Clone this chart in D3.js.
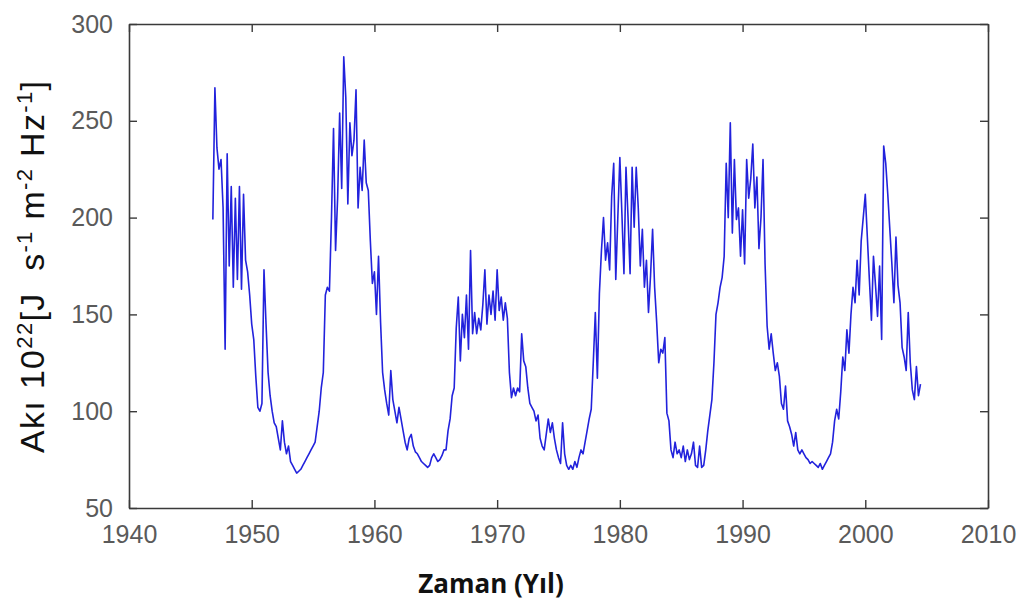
<!DOCTYPE html>
<html><head><meta charset="utf-8">
<script src="https://cdn.jsdelivr.net/npm/d3@7"></script>
<style>body{margin:0;background:#fff}svg{display:block}</style>
</head><body><svg id="c" width="1022" height="604"></svg>
<script>
// Sampling of the series (years, bimonthly)
const startYear = 1946 + 10 / 12;
const stepYears = 1 / 6;
// Flux values (10^22 J s^-1 m^-2 Hz^-1), one row per year
const flux = [
  199,                              // 1946 (Nov)
  267, 236, 225, 230, 205, 132,     // 1947
  233, 175, 216, 164, 210, 168,     // 1948
  216, 163, 212, 178, 172, 160,     // 1949
  145, 137, 118, 102, 100, 104,     // 1950
  173, 145, 120, 108, 100, 94,      // 1951
  92, 86, 80, 95, 84, 78,           // 1952
  82, 74, 72, 70, 68, 69,           // 1953
  70, 72, 74, 76, 78, 80,           // 1954
  82, 84, 92, 100, 112, 120,        // 1955
  160, 164, 162, 200, 246, 183,     // 1956
  210, 254, 215, 283, 262, 207,     // 1957
  249, 232, 240, 266, 205, 226,     // 1958
  214, 240, 218, 214, 188, 166,     // 1959
  172, 150, 180, 146, 120, 111,     // 1960
  104, 98, 121, 106, 100, 94,       // 1961
  102, 96, 90, 84, 80, 86,          // 1962
  88, 82, 79, 78, 76, 74,           // 1963
  73, 72, 71, 72, 76, 78,           // 1964
  76, 74, 75, 77, 80, 80,           // 1965
  90, 96, 108, 112, 143, 159,       // 1966
  126, 150, 138, 160, 132, 183,     // 1967
  140, 151, 140, 148, 142, 155,     // 1968
  173, 145, 160, 150, 162, 147,     // 1969
  173, 152, 159, 147, 156, 148,     // 1970
  120, 107, 112, 108, 112, 110,     // 1971
  140, 126, 123, 112, 104, 102,     // 1972
  100, 95, 98, 86, 82, 80,          // 1973
  88, 96, 89, 94, 86, 80,           // 1974
  76, 73, 94, 78, 72, 70,           // 1975
  72, 70, 74, 71, 76, 80,           // 1976
  78, 84, 90, 96, 101, 125,         // 1977
  151, 117, 161, 183, 200, 178,     // 1978
  187, 173, 211, 228, 168, 200,     // 1979
  231, 202, 171, 226, 200, 171,     // 1980
  226, 195, 226, 205, 175, 194,     // 1981
  164, 178, 151, 170, 194, 164,     // 1982
  146, 125, 132, 130, 138, 99,      // 1983
  95, 80, 76, 84, 78, 80,           // 1984
  76, 82, 74, 80, 75, 78,           // 1985
  84, 72, 71, 82, 71, 72,           // 1986
  80, 90, 98, 106, 125, 150,        // 1987
  156, 164, 169, 180, 228, 200,     // 1988
  249, 192, 230, 199, 205, 180,     // 1989
  204, 176, 230, 210, 220, 238,     // 1990
  205, 221, 184, 200, 230, 176,     // 1991
  144, 132, 140, 130, 121, 125,     // 1992
  118, 104, 101, 113, 95, 92,       // 1993
  88, 82, 89, 80, 78, 80,           // 1994
  78, 76, 75, 73, 74, 73,           // 1995
  72, 71, 73, 70, 72, 74,           // 1996
  76, 78, 84, 95, 101, 96,          // 1997
  110, 128, 121, 142, 130, 150,     // 1998
  164, 156, 178, 160, 188, 200,     // 1999
  212, 190, 168, 147, 180, 165,     // 2000
  149, 175, 137, 237, 228, 212,     // 2001
  194, 176, 156, 190, 165, 156,     // 2002
  133, 128, 121, 151, 125, 111,     // 2003
  106, 123, 108, 114                // 2004
];
const xTickValues = [1940, 1950, 1960, 1970, 1980, 1990, 2000, 2010];
const yTickValues = [50, 100, 150, 200, 250, 300];
const xDomain = [1940, 2010];
const yDomain = [50, 300];

const svg = d3.select("#c");
const L = 129, R = 988, T = 24, B = 508;
const x = d3.scaleLinear().domain(xDomain).range([L, R]);
const y = d3.scaleLinear().domain(yDomain).range([B, T]);

const pts = flux.map((v, i) => ({t: startYear + i * stepYears, v}));

const line = d3.line().x(d => x(d.t)).y(d => y(d.v));
svg.append("path").datum(pts)
  .attr("d", line)
  .attr("fill", "none")
  .attr("stroke", "#2222dc")
  .attr("stroke-width", 1.6)
  .attr("stroke-linejoin", "round");

const tickLen = 8;
const fontTick = "'Liberation Sans Narrow', 'Arial Narrow', 'Liberation Sans', sans-serif";
const gB = svg.append("g").attr("transform", `translate(0,${B})`)
  .call(d3.axisBottom(x).tickValues(xTickValues).tickFormat(d3.format("d")).tickSizeInner(-tickLen).tickSizeOuter(0).tickPadding(14));
const gT = svg.append("g").attr("transform", `translate(0,${T})`)
  .call(d3.axisTop(x).tickValues(xTickValues).tickFormat("").tickSizeInner(-tickLen).tickSizeOuter(0));
const gL = svg.append("g").attr("transform", `translate(${L},0)`)
  .call(d3.axisLeft(y).tickValues(yTickValues).tickSizeInner(-tickLen).tickSizeOuter(0).tickPadding(16));
const gR = svg.append("g").attr("transform", `translate(${R},0)`)
  .call(d3.axisRight(y).tickValues(yTickValues).tickFormat("").tickSizeInner(-tickLen).tickSizeOuter(0));

[gB, gT, gL, gR].forEach(g => {
  g.select(".domain").attr("stroke", "#3a3a3a").attr("stroke-width", 1.6);
  g.selectAll(".tick line").attr("stroke", "#3a3a3a").attr("stroke-width", 1.4);
  g.selectAll(".tick text").attr("fill", "#5a5a5a").style("font-family", fontTick).style("font-size", "25px");
});
gB.selectAll(".tick text").attr("dy", "0.85em");

// Y axis title with superscripts
const yt = svg.append("text")
  .attr("transform", `translate(44,267) rotate(-90)`)
  .attr("text-anchor", "middle")
  .attr("textLength", 372)
  .attr("lengthAdjust", "spacing")
  .style("font-family", "'Liberation Sans', Arial, sans-serif")
  .style("font-size", "34px")
  .style("white-space", "pre")
  .attr("fill", "#111");
const parts = [
  ["Akı 10", false], ["22", true], ["[J  s", false], ["-1", true],
  [" m", false], ["-2", true], [" Hz", false], ["-1", true], ["]", false]
];
parts.forEach(([s, sup]) => {
  const ts = yt.append("tspan").text(s);
  if (sup) ts.attr("baseline-shift", "super").style("font-size", "22px");
});

// X axis title
svg.append("text")
  .attr("x", 491).attr("y", 593)
  .attr("text-anchor", "middle")
  .style("font-family", "'Open Sans', sans-serif")
  .style("font-weight", "bold")
  .style("font-size", "26px")
  .attr("fill", "#111")
  .text("Zaman (Yıl)");
</script>
</body></html>
